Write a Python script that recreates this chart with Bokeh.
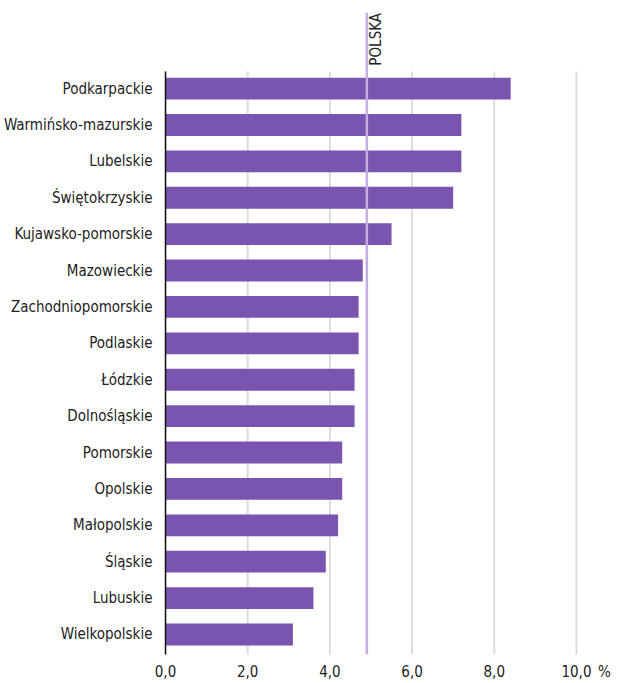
from bokeh.plotting import figure
from bokeh.models import Range1d, FixedTicker, ColumnDataSource
from bokeh.core.properties import value
from bokeh.embed import file_html
from bokeh.resources import INLINE
import math

regions = ["Podkarpackie", "Warmińsko-mazurskie", "Lubelskie", "Świętokrzyskie",
           "Kujawsko-pomorskie", "Mazowieckie", "Zachodniopomorskie", "Podlaskie",
           "Łódzkie", "Dolnośląskie", "Pomorskie", "Opolskie", "Małopolskie",
           "Śląskie", "Lubuskie", "Wielkopolskie"]
values = [8.4, 7.2, 7.2, 7.0, 5.5, 4.8, 4.7, 4.7, 4.6, 4.6, 4.3, 4.3, 4.2, 3.9, 3.6, 3.1]
polska = 4.9
polska_label = "POLSKA"
x_ticks = [0, 2, 4, 6, 8, 10]
x_tick_labels = ["0,0", "2,0", "4,0", "6,0", "8,0", "10,0"]
unit_label = "%"
unit_pos = 10.68

FONT = "'Liberation Sans Narrow', 'DejaVu Sans Condensed', sans-serif"
BAR = "#7a55b0"
GRID = "#dcdcdc"
POL = "#c4aee0"

n = len(regions)
ypos = [n - 1 - i for i in range(n)]
src = ColumnDataSource(dict(y=ypos, v=values, name=regions))

y_lo, y_hi = -0.55, n + 1.09
grid_top = n - 1 + 0.47

p = figure(width=618, height=683, output_backend="svg", toolbar_location=None,
           x_range=Range1d(0, 10.95), y_range=Range1d(y_lo, y_hi),
           min_border_left=163, min_border_right=3, min_border_top=12, min_border_bottom=0)
p.outline_line_color = None
p.xgrid.visible = False
p.ygrid.visible = False

# vertical grid lines
p.segment(x0=x_ticks, x1=x_ticks, y0=[y_lo] * len(x_ticks), y1=[grid_top] * len(x_ticks),
          line_color=GRID, line_width=2)

p.hbar(y="y", right="v", left=0, height=0.6, source=src, color=BAR, line_color=None)

# POLSKA reference line
p.segment(x0=[polska], x1=[polska], y0=[y_lo], y1=[y_hi], line_color=POL, line_width=2.5)
p.text(x=[polska], y=[n - 1 + 0.63], text=[polska_label], angle=math.pi / 2,
       text_align="left", text_baseline="top", x_offset=0,
       text_font=value(FONT), text_font_size="15px", text_color="#222222")

# x axis
p.xaxis.ticker = FixedTicker(ticks=x_ticks + [unit_pos])
p.xaxis.major_label_overrides = {**{t: l for t, l in zip(x_ticks, x_tick_labels)},
                                 unit_pos: unit_label}
p.xaxis.axis_line_color = None
p.xaxis.major_tick_line_color = None
p.xaxis.minor_tick_line_color = None
p.xaxis.major_label_standoff = 2
p.xaxis.major_label_text_font = FONT
p.xaxis.major_label_text_font_size = "15px"
p.xaxis.major_label_text_color = "#222222"

# y axis
p.yaxis.ticker = FixedTicker(ticks=ypos)
p.yaxis.major_label_overrides = {y: r for y, r in zip(ypos, regions)}
p.yaxis.bounds = (y_lo, grid_top)
p.yaxis.axis_line_color = "#111111"
p.yaxis.axis_line_width = 1.5
p.yaxis.major_tick_line_color = None
p.yaxis.minor_tick_line_color = None
p.yaxis.major_label_standoff = 7
p.yaxis.major_label_text_font = FONT
p.yaxis.major_label_text_font_size = "15px"
p.yaxis.major_label_text_color = "#222222"

open("out.html", "w").write(file_html(p, INLINE))
